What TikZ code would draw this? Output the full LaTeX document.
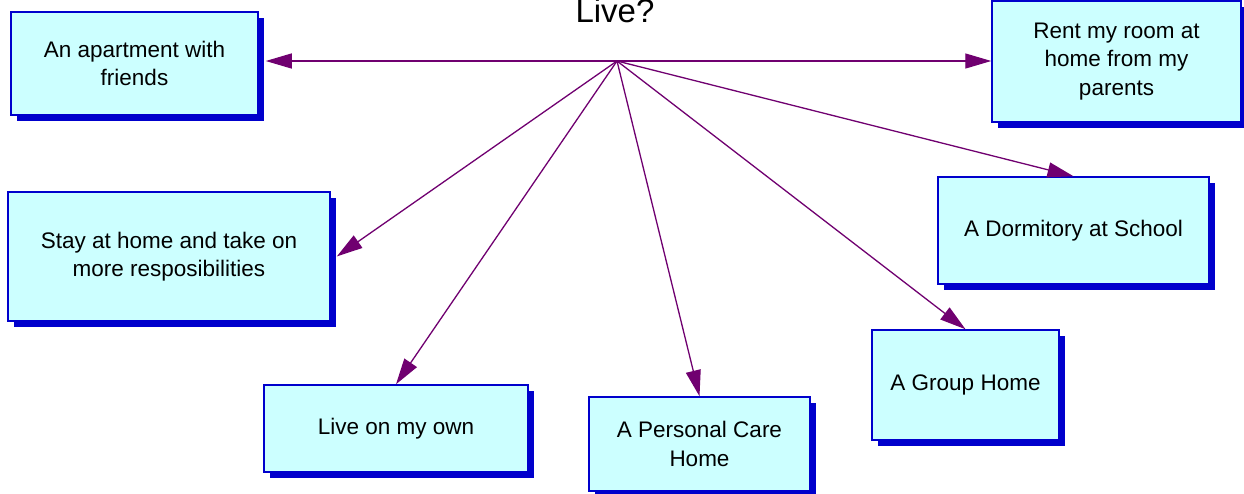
\documentclass[tikz,border=0pt]{standalone}
\usepackage{fontspec}
\setmainfont{Liberation Sans}
\usetikzlibrary{shadows,arrows.meta}
\definecolor{boxfill}{RGB}{204,255,255}
\definecolor{boxline}{RGB}{0,0,204}
\definecolor{shadowblue}{RGB}{0,0,204}
\definecolor{arrowpurple}{RGB}{112,0,112}
\begin{document}
\begin{tikzpicture}[x=1pt,y=-1pt,
  box/.style={draw=boxline, line width=1.5pt, fill=boxfill, align=center, inner sep=0pt,
    font=\fontsize{22.5}{28.5}\selectfont,
    drop shadow={shadow xshift=6pt, shadow yshift=-6pt, fill=shadowblue, opacity=1}},
  conn/.style={draw=arrowpurple, line width=1.3pt, -{Triangle[length=26pt,width=15pt]}},
  title/.style={font=\fontsize{33}{38}\selectfont, anchor=base}]
\useasboundingbox (0,0) rectangle (1244,493);
\clip (0,0) rectangle (1244,493);
\fill[white] (0,0) rectangle (1244,493);
\node[title] (t) at (615,22) {Live?};
\coordinate (hub) at (617,61);
\node[box, minimum width=247, minimum height=103] (b1) at (134.5,63.5) {An apartment with\\friends};
\node[box, minimum width=249, minimum height=121] (b2) at (1116.5,61.5) {Rent my room at\\home from my\\parents};
\node[box, minimum width=322, minimum height=129] (b3) at (169,256.5) {Stay at home and take on\\more resposibilities};
\node[box, minimum width=264, minimum height=87] (b4) at (396,428.5) {Live on my own};
\node[box, minimum width=221, minimum height=94] (b5) at (699.5,444) {A Personal Care\\Home};
\node[box, minimum width=271, minimum height=107] (b6) at (1073.5,230.5) {A Dormitory at School};
\node[box, minimum width=187, minimum height=110] (b7) at (965.5,385) {A Group Home};
\draw[conn, shorten >=7pt] (hub) -- (hub -| b1.east);
\draw[conn] (hub) -- (hub -| b2.west);
\draw[conn] (hub) -- ([xshift=6pt]b3.east);
\draw[conn] (hub) -- (b4.north);
\draw[conn] (hub) -- (b5.north);
\draw[conn] (hub) -- (b6.north);
\draw[conn] (hub) -- (b7.north);
\end{tikzpicture}
\end{document}
